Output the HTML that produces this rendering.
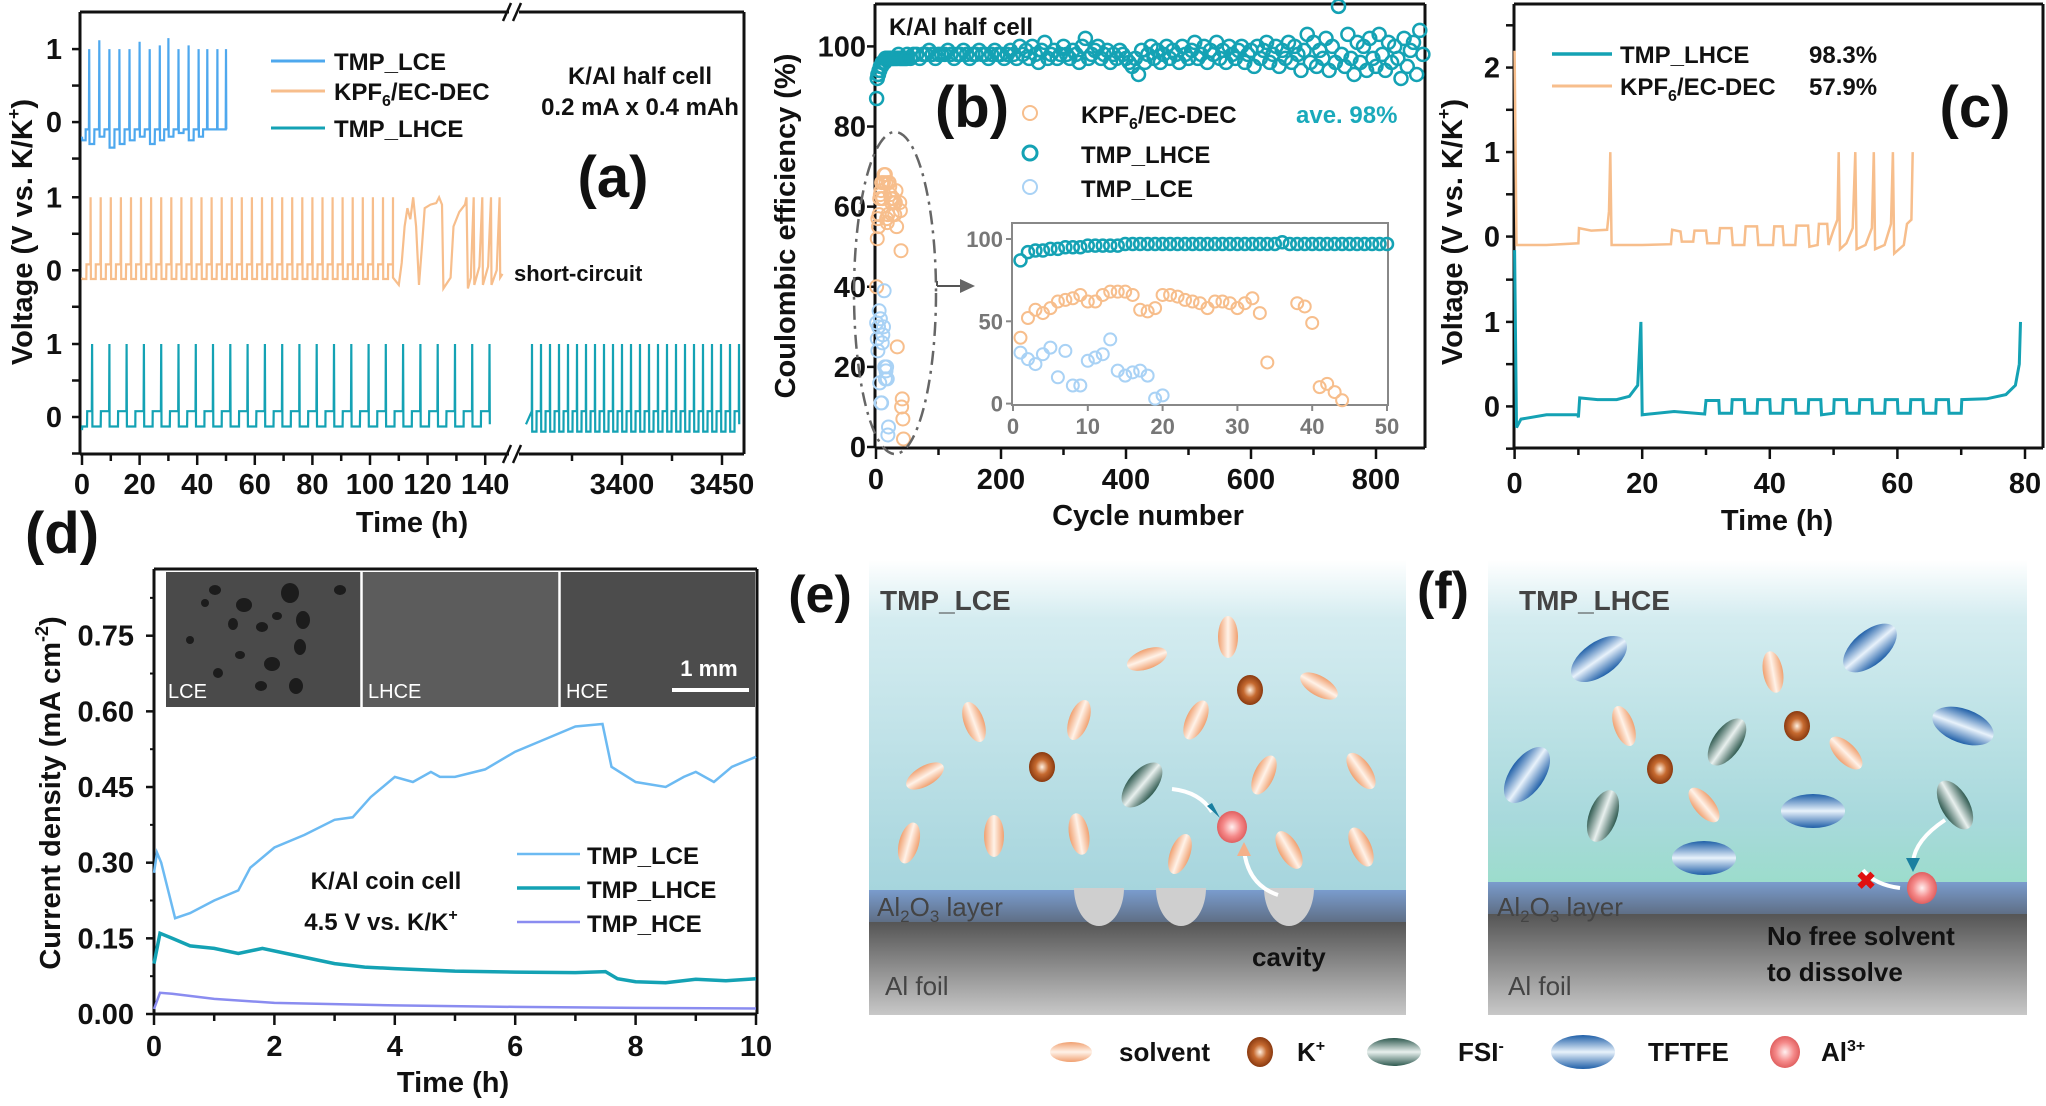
<!DOCTYPE html>
<html><head><meta charset="utf-8"><style>
html,body{margin:0;padding:0;background:#fff;}
svg{display:block;font-family:"Liberation Sans",Arial,sans-serif;font-weight:bold;}
</style></head><body>
<svg id="fig" width="2046" height="1106" viewBox="0 0 2046 1106" xmlns="http://www.w3.org/2000/svg">
<defs>
<linearGradient id="liqE" x1="0" y1="0" x2="0" y2="1"><stop offset="0" stop-color="#ffffff"/><stop offset="0.18" stop-color="#d4ecf0"/><stop offset="1" stop-color="#a6d5dd"/></linearGradient>
<linearGradient id="liqF" x1="0" y1="0" x2="0" y2="1"><stop offset="0" stop-color="#ffffff"/><stop offset="0.18" stop-color="#d4ecf0"/><stop offset="0.8" stop-color="#a8d9dc"/><stop offset="1" stop-color="#9cdccc"/></linearGradient>
<linearGradient id="foil" x1="0" y1="0" x2="0" y2="1"><stop offset="0" stop-color="#555"/><stop offset="1" stop-color="#c8c8c8"/></linearGradient>
<linearGradient id="layer" x1="0" y1="0" x2="0" y2="1"><stop offset="0" stop-color="#7a9ccd"/><stop offset="1" stop-color="#5f6f86"/></linearGradient>
<linearGradient id="gSolv" x1="0" y1="0" x2="1" y2="0"><stop offset="0" stop-color="#f0a070"/><stop offset="0.5" stop-color="#fff2e8"/><stop offset="1" stop-color="#f0a070"/></linearGradient>
<linearGradient id="gFsi" x1="0" y1="0" x2="1" y2="0"><stop offset="0" stop-color="#2f5a50"/><stop offset="0.5" stop-color="#e8f0ee"/><stop offset="1" stop-color="#2f5a50"/></linearGradient>
<linearGradient id="gTf" x1="0" y1="0" x2="1" y2="0"><stop offset="0" stop-color="#1f5fa8"/><stop offset="0.5" stop-color="#e8f2fb"/><stop offset="1" stop-color="#1f5fa8"/></linearGradient>
<radialGradient id="gK"><stop offset="0" stop-color="#fff0e0"/><stop offset="0.5" stop-color="#c66a30"/><stop offset="1" stop-color="#8a3a10"/></radialGradient>
<radialGradient id="gAl"><stop offset="0" stop-color="#fff0f0"/><stop offset="0.6" stop-color="#f58a8a"/><stop offset="1" stop-color="#e06060"/></radialGradient>
</defs>
</svg>
<script>
// ---------- DATA ----------
const lceSpikes=[2.5,6,9.5,13,16.5,20,23.5,27,30,33.5,37,40.5,43.5,47,50];
const lcePeaks=[1.0,1.12,1.0,1.0,1.0,1.1,1.0,1.05,1.15,1.0,1.05,1.0,1.0,1.0,1.0];
const lceLows=[-0.25,-0.3,-0.2,-0.35,-0.3,-0.25,-0.2,-0.3,-0.25,-0.2,-0.15,-0.25,-0.2,-0.1,-0.1];
const kpfSpikes=[3,6.5,10,13.5,17,20.5,24,27.5,31,34.5,38,41.5,45,48.5,52,55.5,59,62.5,66,69.5,73,76.5,80,83.5,87,90.5,94,97.5,101,104.5,108];
const kpfMessy=[[108,-0.1],[110,-0.2],[111,0.1],[112,0.6],[113,0.85],[114,0.7],[115,1.0],[116,0.6],[117,-0.2],[118,0.3],[119,0.85],[121,0.9],[123,0.92],[124,1.0],[125,0.9],[125.5,-0.25],[128,-0.1],[129,0.6],[131,0.8],[133,0.9],[133.5,1.0],[134,-0.25],[135,-0.1],[136,1.0],[136.2,-0.2],[138,0.05],[139,1.0],[139.2,-0.2],[141,0.05],[142,1.0],[142.2,-0.2],[144,0.0],[145,1.0],[145.2,-0.1],[146,-0.05]];
const lhceSpikesL=[3.5,9.5,15.5,21.5,27.5,33.5,39.5,45.5,51.5,57.5,63.5,69.5,75.5,81.5,87.5,93.5,99.5,105.5,111.5,117.5,123.5,129.5,135.5,141.5];
const lhceSpikesR=[3355,3359.5,3364,3368.5,3373,3377.5,3382,3386.5,3391,3395.5,3400,3404.5,3409,3413.5,3418,3422.5,3427,3431.5,3436,3440.5,3445,3449.5,3454,3458.5];
const lhceMainStart=50, lhceMainStep=5;
const lhceMain=[98,97,98,98,97,98,98,99,98,97,98,98,98,99,98,97,98,98,99,98,97,98,98,99,98,98,97,98,99,98,98,
97,98,99,98,97,100,98,99,97,100,98,96,99,101,97,98,99,97,98,100,98,97,99,98,96,100,102,97,98,99,100,97,98,99,96,98,97,99,98,97,
96,95,97,93,99,96,98,100,97,99,96,98,100,97,99,98,96,100,98,97,99,101,97,98,100,96,99,98,101,97,99,96,100,98,97,99,100,96,98,99,
95,100,97,99,101,96,98,100,95,99,97,101,96,100,98,94,99,103,96,101,95,99,97,102,94,100,96,110,98,95,103,97,93,101,96,100,94,102,97,95,103,98,94,101,96,100,97,92,102,95,99,101,93,104,98];
const lhceEarly=[87,92,93,93,94,94,95,95,95,96,96,96,96,96,97,97,97,97,97,97,97,97,97,97,97,97,97,97,97,97,97,97,97,97,97,98,97,97,97,97,97,97,97,97,97,97,97,97,97,97];
const kpfCycles=[1,2,3,4,5,6,7,8,9,10,11,12,13,14,15,16,17,18,19,20,21,22,23,24,25,26,27,28,29,30,31,32,33,34,38,39,40,41,42,43,44];
const kpfCE=[40,52,57,55,58,62,63,64,66,62,62,66,68,68,68,66,57,56,58,66,66,65,63,62,61,58,62,62,61,58,61,64,55,25,61,59,49,10,12,7,2];
const lceCycles=[1,2,3,4,5,6,7,8,9,10,11,12,13,14,15,16,17,18,19,20];
const lceCE=[31,27,24,30,34,16,32,11,11,26,28,30,39,20,17,19,20,17,3,5];
const cLhce=[[0,1.85],[0.3,-0.25],[1,-0.15],[5,-0.1],[9.9,-0.1],[10,-0.13],[10.2,0.1],[13,0.08],[16,0.08],[18,0.12],[19.3,0.25],[19.8,1.0],[20,-0.1],[25,-0.06],[29.8,-0.09],[30,0.07],[32,0.07],[32.1,-0.08],[34,-0.08],[34.1,0.08],[36,0.08],[36.1,-0.08],[38,-0.08],[38.1,0.08],[40,0.08],[40.1,-0.08],[42,-0.08],[42.1,0.08],[44,0.08],[44.1,-0.08],[46,-0.08],[46.1,0.08],[48,0.08],[48.1,-0.1],[50,-0.08],[50.1,0.08],[52,0.08],[52.1,-0.08],[54,-0.08],[54.1,0.08],[56,0.08],[56.1,-0.08],[58,-0.08],[58.1,0.08],[60,0.08],[60.1,-0.08],[62,-0.08],[62.1,0.08],[64,0.08],[64.1,-0.08],[66,-0.08],[66.1,0.08],[68,0.08],[68.1,-0.08],[70,-0.08],[70.1,0.08],[74,0.09],[77,0.14],[78.5,0.25],[79.1,0.5],[79.3,1.0]];
const cKpf=[[0,2.2],[0.3,-0.1],[5,-0.1],[10,-0.08],[10.1,0.1],[12,0.07],[14.5,0.08],[14.8,0.3],[15,1.0],[15.2,-0.1],[20,-0.1],[24.5,-0.09],[24.7,0.08],[26,0.06],[26.2,-0.06],[28,-0.06],[28.2,0.07],[30,0.07],[30.2,-0.08],[32,-0.08],[32.2,0.1],[34,0.1],[34.2,-0.1],[36,-0.1],[36.2,0.12],[38,0.12],[38.2,-0.1],[40.5,-0.1],[40.7,0.12],[42,0.12],[42.2,-0.1],[44,-0.1],[44.2,0.13],[46,0.13],[46.2,-0.12],[47.5,-0.1],[47.7,0.15],[49,0.15],[49.2,-0.1],[50,0.08],[50.6,0.2],[50.8,1.0],[51,-0.15],[52,-0.08],[53,0.1],[53.4,1.0],[53.6,-0.15],[55,-0.1],[56,0.1],[56.3,1.0],[56.5,-0.15],[58,-0.1],[59,0.15],[59.3,1.0],[59.5,-0.2],[61,-0.1],[61.5,0.15],[62.2,0.2],[62.4,1.0]];
const dLce=[[0,0.28],[0.05,0.32],[0.12,0.30],[0.35,0.19],[0.6,0.20],[1,0.225],[1.4,0.245],[1.6,0.29],[2,0.33],[2.5,0.355],[3,0.385],[3.3,0.39],[3.6,0.43],[4,0.47],[4.3,0.46],[4.6,0.48],[4.75,0.47],[5,0.47],[5.5,0.485],[6,0.52],[6.5,0.545],[7,0.57],[7.45,0.575],[7.6,0.49],[8,0.46],[8.5,0.45],[8.8,0.47],[9,0.48],[9.3,0.46],[9.6,0.49],[10,0.51]];
const dLhce=[[0,0.1],[0.1,0.16],[0.3,0.15],[0.6,0.135],[1,0.13],[1.4,0.12],[1.8,0.13],[2.2,0.12],[3,0.1],[3.5,0.093],[4,0.09],[5,0.085],[6,0.083],[7,0.082],[7.5,0.084],[7.7,0.07],[8,0.064],[8.5,0.062],[9,0.069],[9.5,0.066],[10,0.07]];
const dHce=[[0,0.01],[0.1,0.042],[0.3,0.04],[1,0.03],[2,0.022],[4,0.017],[6,0.014],[8,0.012],[10,0.011]];
const dTicks=[0,0.15,0.30,0.45,0.60,0.75];
const dTickLabels=["0.00","0.15","0.30","0.45","0.60","0.75"];

// ---------- HELPERS ----------
const NS="http://www.w3.org/2000/svg";
const svg=document.getElementById('fig');
function mk(tag,attrs,name,parent){
  const el=document.createElementNS(NS,tag);
  for(const k in attrs) el.setAttribute(k,attrs[k]);
  
  
  (parent||svg).appendChild(el);
  return el;
}
function txt(x,y,s,size,name,opt){
  opt=opt||{};
  const el=mk('text',{x:x,y:y,'font-size':size,fill:opt.fill||'#111','text-anchor':opt.anchor||'start'},name,opt.parent);
  if(opt.rot) el.setAttribute('transform','rotate('+opt.rot+' '+x+' '+y+')');
  if(opt.weight) el.setAttribute('font-weight',opt.weight);
  el.innerHTML=s;
  return el;
}
function pathD(pts,fx,fy){return pts.map((p,i)=>(i?'L':'M')+fx(p[0]).toFixed(1)+' '+fy(p[1]).toFixed(1)).join(' ');}
function ln(x1,y1,x2,y2,name,w,c){return mk('line',{x1:x1,y1:y1,x2:x2,y2:y2,stroke:c||'#111','stroke-width':w||3},name);}
const LCEc='#4ea8ee', KPFc='#f7be8c', LHCEc='#14a2b4', HCEc='#8a8cf0';

// ---------- PANEL (a) ----------
const xaL=t=>82+t*2.88, xaR=t=>622+(t-3400)*2.0;
const ya=v=>417-73*v;
const offLCE=4.04, offKPF=2.01;
function cyclePts(spikes,peaks,lows,high,start,off){
  const pts=[[0,start+off]];let p=0;
  spikes.forEach((s,i)=>{
    const lo=Array.isArray(lows)?lows[i]:lows, pk=Array.isArray(peaks)?peaks[i]:peaks, m=(p+s)/2;
    pts.push([p+0.1,lo+off],[m,lo+off],[m+0.05,high+off],[s-0.1,high+off],[s,pk+off]);
    p=s;
  });
  pts.push([p+0.1,-0.1+off]);
  return pts;
}
ln(80,12,80,454,'a-y-axis',3);
ln(80,454,509,454,'a-x-axis-left',3);ln(519,454,744,454,'a-x-axis-right',3);
ln(80,12,509,12,'a-top-frame-left',3);ln(519,12,744,12,'a-top-frame-right',3);
ln(744,12,744,454,'a-right-frame',3);
[[12],[454]].forEach(([y])=>{ln(503,y+9,511,y-9,'a-break-mark',2.5);ln(513,y+9,521,y-9,'a-break-mark',2.5);});
for(let t=0;t<=140;t+=10){ln(xaL(t),454,xaL(t),t%20?461:465,'a-x-tick',2.5);if(t%20===0)txt(xaL(t),494,String(t),29,'a-x-tick-label',{anchor:'middle'});}
[3375,3400,3425,3450].forEach(t=>{ln(xaR(t),454,xaR(t),t%50?461:465,'a-x-tick',2.5);if(t%50===0)txt(xaR(t),494,String(t),29,'a-x-tick-label',{anchor:'middle'});});
[0,offKPF,offLCE].forEach(o=>{[-0.5,0,0.5,1].forEach(v=>{ln(72,ya(v+o),80,ya(v+o),'a-y-tick',2.5);});txt(62,ya(o)+10,'0',29,'a-y-tick-label',{anchor:'end'});txt(62,ya(1+o)+10,'1',29,'a-y-tick-label',{anchor:'end'});});
txt(32,232,'Voltage (V vs. K/K<tspan font-size="18" dy="-12">+</tspan><tspan dy="12">)</tspan>',29,'a-y-axis-title',{anchor:'middle',rot:-90});
txt(412,532,'Time (h)',29,'a-x-axis-title',{anchor:'middle'});
mk('path',{d:pathD(cyclePts(lhceSpikesL,1.0,-0.13,0.08,-0.18,0),xaL,ya),fill:'none',stroke:LHCEc,'stroke-width':2.2},'a-series-lhce-left');
const rPts=cyclePts(lhceSpikesR,1.0,-0.2,0.08,-0.1,0).map(p=>[p[0]===0?3352:p[0],p[1]]);
rPts[0]=[3352,-0.1];
mk('path',{d:pathD(rPts.filter(p=>p[0]>=3352),xaR,ya),fill:'none',stroke:LHCEc,'stroke-width':2.2},'a-series-lhce-right');
const kp=cyclePts(kpfSpikes,1.0,-0.12,0.08,-0.1,offKPF);kp.pop();
mk('path',{d:pathD(kp.concat(kpfMessy.map(p=>[p[0],p[1]+offKPF])),xaL,ya),fill:'none',stroke:KPFc,'stroke-width':2.2},'a-series-kpf');
mk('path',{d:pathD(cyclePts(lceSpikes,lcePeaks,lceLows,-0.1,-0.2,offLCE),xaL,ya),fill:'none',stroke:LCEc,'stroke-width':2.2},'a-series-lce');
[[61,LCEc,'TMP_LCE'],[91,KPFc,'KPF<tspan font-size="16" dy="6">6</tspan><tspan dy="-6">/EC-DEC</tspan>'],[128,LHCEc,'TMP_LHCE']].forEach(([y,c,s])=>{ln(271,y,325,y,'a-legend-line',3,c);txt(334,y+9,s,24,'a-legend-label');});
txt(640,84,'K/Al half cell',24,'a-annotation-cell',{anchor:'middle'});
txt(640,115,'0.2 mA x 0.4 mAh',24,'a-annotation-current',{anchor:'middle'});
txt(613,197,'(a)',58,'a-panel-label',{anchor:'middle'});
txt(514,281,'short-circuit',22,'a-short-circuit-label');

// ---------- PANEL (b) ----------
const xb=c=>876+c*0.625, yb=v=>447-4.006*v;
ln(875,4,875,448,'b-y-axis',3);ln(875,448,1425,448,'b-x-axis',3);ln(875,4,1425,4,'b-top-frame',3);ln(1425,4,1425,448,'b-right-frame',3);
for(let c=0;c<=850;c+=100){ln(xb(c),448,xb(c),c%200?455:459,'b-x-tick',2.5);if(c%200===0)txt(xb(c),489,String(c),29,'b-x-tick-label',{anchor:'middle'});}
for(let v=0;v<=100;v+=20){ln(867,yb(v),875,yb(v),'b-y-tick',2.5);txt(866,yb(v)+10,String(v),29,'b-y-tick-label',{anchor:'end'});}
txt(795,226,'Coulombic efficiency (%)',29,'b-y-axis-title',{anchor:'middle',rot:-90});
txt(1148,525,'Cycle number',29,'b-x-axis-title',{anchor:'middle'});
const gB=mk('g',{},'b-plot-area');
lhceMain.forEach((v,i)=>{mk('circle',{cx:xb(lhceMainStart+i*lhceMainStep),cy:yb(v),r:6.5,fill:'none',stroke:LHCEc,'stroke-width':2.5},'b-lhce-point',gB);});
lhceEarly.forEach((v,i)=>{mk('circle',{cx:xb(i+1),cy:yb(v),r:6.5,fill:'none',stroke:LHCEc,'stroke-width':2.5},'b-lhce-point',gB);});
kpfCE.forEach((v,i)=>{mk('circle',{cx:xb(kpfCycles[i]),cy:yb(v),r:6.5,fill:'none',stroke:KPFc,'stroke-width':2},'b-kpf-point',gB);});
lceCE.forEach((v,i)=>{mk('circle',{cx:xb(lceCycles[i]),cy:yb(v),r:6.5,fill:'none',stroke:'#a9d2f5','stroke-width':2},'b-lce-point',gB);});
mk('ellipse',{cx:895,cy:293,rx:41,ry:161,fill:'none',stroke:'#666','stroke-width':2.5,'stroke-dasharray':'14 6 3 6'},'b-zoom-ellipse');
ln(937,286,937,281,'b-zoom-arrow',2,'#555');ln(937,286,962,286,'b-zoom-arrow',2,'#555');
mk('path',{d:'M960 279 L975 286 L960 293 Z',fill:'#666'},'b-zoom-arrowhead');
txt(889,35,'K/Al half cell',24,'b-annotation-cell');
txt(972,127,'(b)',58,'b-panel-label',{anchor:'middle'});
[[113,KPFc,'KPF<tspan font-size="16" dy="6">6</tspan><tspan dy="-6">/EC-DEC</tspan>',2],[153,LHCEc,'TMP_LHCE',3],[187,'#a9d2f5','TMP_LCE',2]].forEach(([y,c,s,w])=>{mk('circle',{cx:1030,cy:y,r:7,fill:'none',stroke:c,'stroke-width':w},'b-legend-marker');txt(1081,y+10,s,24,'b-legend-label');});
txt(1296,123,'ave. 98%',24,'b-average-label',{fill:'#1aaabb'});
const xi=c=>1013+c*7.48, yi=v=>403.6-1.646*v;
mk('rect',{x:1012,y:223,width:376,height:182,fill:'#fff',stroke:'#888','stroke-width':2},'b-inset-frame');
[0,10,20,30,40,50].forEach(c=>{ln(xi(c),405,xi(c),411,'b-inset-x-tick',2,'#888');txt(xi(c),434,String(c),22,'b-inset-x-tick-label',{anchor:'middle',fill:'#777'});});
[0,50,100].forEach(v=>{ln(1006,yi(v),1012,yi(v),'b-inset-y-tick',2,'#888');txt(1003,yi(v)+8,String(v),22,'b-inset-y-tick-label',{anchor:'end',fill:'#777'});});
lhceEarly.forEach((v,i)=>{mk('circle',{cx:xi(i+1),cy:yi(v),r:6,fill:'none',stroke:LHCEc,'stroke-width':2.5},'b-inset-lhce-point');});
kpfCE.forEach((v,i)=>{mk('circle',{cx:xi(kpfCycles[i]),cy:yi(v),r:6,fill:'none',stroke:KPFc,'stroke-width':2},'b-inset-kpf-point');});
lceCE.forEach((v,i)=>{mk('circle',{cx:xi(lceCycles[i]),cy:yi(v),r:6,fill:'none',stroke:'#a9d2f5','stroke-width':2},'b-inset-lce-point');});

// ---------- PANEL (c) ----------
const xc=t=>1514.6+t*6.38, yc=v=>406.4-84.5*v;
ln(1514,4,1514,448,'c-y-axis',3);ln(1514,448,2043,448,'c-x-axis',3);ln(1514,4,2043,4,'c-top-frame',3);ln(2043,4,2043,448,'c-right-frame',3);
for(let t=0;t<=80;t+=10){ln(xc(t),448,xc(t),t%20?455:459,'c-x-tick',2.5);if(t%20===0)txt(xc(t),493,String(t),29,'c-x-tick-label',{anchor:'middle'});}
[-0.5,0,0.5,1,1.5,2.01,2.51,3.01,3.51,4.01,4.51].forEach(v=>ln(1506,yc(v),1514,yc(v),'c-y-tick',2.5));
[[0,'0'],[1,'1'],[2.01,'0'],[3.01,'1'],[4.01,'2']].forEach(([v,s])=>txt(1500,yc(v)+10,s,29,'c-y-tick-label',{anchor:'end'}));
txt(1462,232,'Voltage (V vs. K/K<tspan font-size="18" dy="-12">+</tspan><tspan dy="12">)</tspan>',29,'c-y-axis-title',{anchor:'middle',rot:-90});
txt(1777,530,'Time (h)',29,'c-x-axis-title',{anchor:'middle'});
mk('path',{d:pathD(cKpf.map(p=>[p[0],p[1]+2.01]),xc,yc),fill:'none',stroke:KPFc,'stroke-width':2.5},'c-series-kpf');
mk('path',{d:pathD(cLhce,xc,yc),fill:'none',stroke:LHCEc,'stroke-width':3},'c-series-lhce');
ln(1552,54,1612,54,'c-legend-line-lhce',3.5,LHCEc);txt(1620,63,'TMP_LHCE',24,'c-legend-label');txt(1809,63,'98.3%',24,'c-legend-value');
ln(1552,86,1612,86,'c-legend-line-kpf',3,KPFc);txt(1620,95,'KPF<tspan font-size="16" dy="6">6</tspan><tspan dy="-6">/EC-DEC</tspan>',24,'c-legend-label');txt(1809,95,'57.9%',24,'c-legend-value');
txt(1975,127,'(c)',58,'c-panel-label',{anchor:'middle'});

// ---------- PANEL (d) ----------
const xd=t=>154+t*60.2, yd=v=>1014-504.4*v;
ln(154,569,154,1014,'d-y-axis',3);ln(154,1014,757,1014,'d-x-axis',3);ln(154,569,757,569,'d-top-frame',3);ln(757,569,757,1014,'d-right-frame',3);
for(let t=0;t<=10;t+=1){ln(xd(t),1014,xd(t),t%2?1021:1025,'d-x-tick',2.5);if(t%2===0)txt(xd(t),1056,String(t),29,'d-x-tick-label',{anchor:'middle'});}
dTicks.forEach((v,i)=>{ln(146,yd(v),154,yd(v),'d-y-tick',2.5);ln(150,yd(v+0.075),154,yd(v+0.075),'d-y-minor-tick',2);txt(134,yd(v)+10,dTickLabels[i],29,'d-y-tick-label',{anchor:'end'});});
txt(60,793,'Current density (mA cm<tspan font-size="18" dy="-12">-2</tspan><tspan dy="12">)</tspan>',29,'d-y-axis-title',{anchor:'middle',rot:-90});
txt(453,1092,'Time (h)',29,'d-x-axis-title',{anchor:'middle'});
txt(62,553,'(d)',58,'d-panel-label',{anchor:'middle'});
mk('rect',{x:166,y:572,width:196,height:135,fill:'#4a4a4a'},'d-sem-lce');
mk('rect',{x:362,y:572,width:198,height:135,fill:'#5c5c5c'},'d-sem-lhce');
mk('rect',{x:560,y:572,width:195,height:135,fill:'#4c4c4c'},'d-sem-hce');
[[215,590,6,5],[244,605,8,7],[233,624,5,6],[262,627,6,5],[277,616,5,4],[290,593,9,10],[303,620,7,9],[300,647,6,8],[272,664,8,7],[240,655,5,4],[190,640,4,4],[218,673,5,5],[261,686,6,5],[296,686,7,8],[205,603,4,4],[340,590,6,5]].forEach(b=>mk('ellipse',{cx:b[0],cy:b[1],rx:b[2],ry:b[3],fill:'#1c1c1c'},'d-sem-pit'));
ln(361.5,572,361.5,707,'d-sem-divider',2.5,'#fff');ln(559.5,572,559.5,707,'d-sem-divider',2.5,'#fff');
txt(168,698,'LCE',20,'d-sem-label-lce',{fill:'#fff',weight:'normal'});
txt(368,698,'LHCE',20,'d-sem-label-lhce',{fill:'#fff',weight:'normal'});
txt(566,698,'HCE',20,'d-sem-label-hce',{fill:'#fff',weight:'normal'});
txt(709,676,'1 mm',22,'d-scale-bar-label',{fill:'#fff',anchor:'middle'});
mk('rect',{x:672,y:688,width:77,height:4,fill:'#fff'},'d-scale-bar');
mk('path',{d:pathD(dLce,xd,yd),fill:'none',stroke:'#6cbaf2','stroke-width':2.5},'d-series-lce');
mk('path',{d:pathD(dLhce,xd,yd),fill:'none',stroke:LHCEc,'stroke-width':3.5},'d-series-lhce');
mk('path',{d:pathD(dHce,xd,yd),fill:'none',stroke:HCEc,'stroke-width':2.5},'d-series-hce');
[[854,'#6cbaf2','TMP_LCE',2.5],[888,LHCEc,'TMP_LHCE',3.5],[922,HCEc,'TMP_HCE',2.5]].forEach(([y,c,s,w])=>{ln(517,y,580,y,'d-legend-line',w,c);txt(587,y+10,s,24,'d-legend-label');});
txt(386,889,'K/Al coin cell',24,'d-annotation-cell',{anchor:'middle'});
txt(381,930,'4.5 V vs. K/K<tspan font-size="16" dy="-10">+</tspan>',24,'d-annotation-voltage',{anchor:'middle'});

// ---------- PANELS (e),(f) ----------
function box(x0,w,layerTop,liq,pfx){
  mk('rect',{x:x0,y:560,width:w,height:layerTop-560,fill:'url(#'+liq+')'},pfx+'-electrolyte');
  mk('rect',{x:x0,y:layerTop,width:w,height:32,fill:'url(#layer)'},pfx+'-al2o3-layer');
  mk('rect',{x:x0,y:layerTop+32,width:w,height:1015-layerTop-32,fill:'url(#foil)'},pfx+'-al-foil');
}
box(869,537,890,'liqE','e');box(1488,539,882,'liqF','f');
function mol(kind,x,y,ang,name){
  const g=mk('g',{transform:'translate('+x+' '+y+') rotate('+ang+')'},name);
  if(kind==='s') mk('ellipse',{cx:0,cy:0,rx:10,ry:21,fill:'url(#gSolv)'},'solvent-shape',g);
  if(kind==='f') mk('ellipse',{cx:0,cy:0,rx:14,ry:27,fill:'url(#gFsi)'},'fsi-shape',g);
  if(kind==='t') mk('ellipse',{cx:0,cy:0,rx:17,ry:32,fill:'url(#gTf)'},'tftfe-shape',g);
  if(kind==='k') mk('ellipse',{cx:0,cy:0,rx:13,ry:15,fill:'url(#gK)'},'k-ion-shape',g);
  if(kind==='a') mk('ellipse',{cx:0,cy:0,rx:15,ry:16,fill:'url(#gAl)'},'al-ion-shape',g);
}
[[1228,637,0],[1147,659,70],[1319,686,-60],[974,722,-20],[1079,720,20],[1196,720,25],[925,776,60],[1264,775,25],[1361,771,-35],[909,843,15],[994,836,0],[1079,834,-10],[1180,854,20],[1289,850,-30],[1361,847,-25]].forEach(m=>mol('s',m[0],m[1],m[2],'e-solvent-molecule'));
mol('k',1250,690,0,'e-k-ion');mol('k',1042,767,0,'e-k-ion');
mol('f',1142,785,40,'e-fsi-anion');mol('a',1232,827,0,'e-al-ion');
[1099,1181,1289].forEach(cx=>mk('path',{d:'M'+(cx-25)+' 888 A25 38 0 0 0 '+(cx+25)+' 888 Z',fill:'#cfcfcf'},'e-cavity'));
mk('path',{d:'M1172 789 Q1200 792 1212 812',fill:'none',stroke:'#fff','stroke-width':4},'e-arrow-fsi');
mk('path',{d:'M1207 806 L1220 818 L1212 803 Z',fill:'#1a7fa0'},'e-arrowhead-fsi');
mk('path',{d:'M1278 895 Q1248 885 1244 850',fill:'none',stroke:'#fff','stroke-width':4},'e-arrow-al');
mk('path',{d:'M1237 856 L1244 842 L1251 856 Z',fill:'#f4b08a'},'e-arrowhead-al');
txt(880,610,'TMP_LCE',28,'e-title',{fill:'#444'});
txt(877,916,'Al<tspan font-size="17" dy="6">2</tspan><tspan dy="-6">O</tspan><tspan font-size="17" dy="6">3</tspan><tspan dy="-6"> layer</tspan>',26,'e-layer-label',{fill:'#444',weight:'normal'});
txt(885,995,'Al foil',26,'e-foil-label',{fill:'#444',weight:'normal'});
txt(1252,966,'cavity',26,'e-cavity-label',{fill:'#111'});
txt(820,612,'(e)',52,'e-panel-label',{anchor:'middle'});
[[1599,659,55],[1870,648,50],[1963,726,-70],[1527,775,35],[1813,811,90],[1704,858,90]].forEach(m=>mol('t',m[0],m[1],m[2],'f-tftfe-molecule'));
[[1773,672,-10],[1624,726,-20],[1846,753,-45],[1704,805,-40]].forEach(m=>mol('s',m[0],m[1],m[2],'f-solvent-molecule'));
mol('k',1797,726,0,'f-k-ion');mol('k',1660,769,0,'f-k-ion');
[[1727,742,35],[1603,816,20],[1955,805,-30]].forEach(m=>mol('f',m[0],m[1],m[2],'f-fsi-anion'));
mol('a',1922,888,0,'f-al-ion');
mk('path',{d:'M1945 820 Q1915 840 1913 862',fill:'none',stroke:'#fff','stroke-width':4},'f-arrow-fsi');
mk('path',{d:'M1906 858 L1913 872 L1920 858 Z',fill:'#1a7fa0'},'f-arrowhead-fsi');
mk('path',{d:'M1900 888 Q1875 885 1863 870',fill:'none',stroke:'#fff','stroke-width':4},'f-arrow-blocked');
txt(1866,889,'✖',24,'f-blocked-x',{fill:'#e01010',anchor:'middle'});
txt(1519,610,'TMP_LHCE',28,'f-title',{fill:'#444'});
txt(1497,916,'Al<tspan font-size="17" dy="6">2</tspan><tspan dy="-6">O</tspan><tspan font-size="17" dy="6">3</tspan><tspan dy="-6"> layer</tspan>',26,'f-layer-label',{fill:'#444',weight:'normal'});
txt(1508,995,'Al foil',26,'f-foil-label',{fill:'#444',weight:'normal'});
txt(1767,945,'No free solvent',26,'f-annotation-line1',{fill:'#111'});
txt(1767,981,'to dissolve',26,'f-annotation-line2',{fill:'#111'});
txt(1443,608,'(f)',52,'f-panel-label',{anchor:'middle'});
mol('s',1071,1052,90,'legend-solvent-icon');txt(1119,1061,'solvent',26,'legend-solvent-label');
mol('k',1260,1052,0,'legend-k-icon');txt(1297,1061,'K<tspan font-size="16" dy="-10">+</tspan>',26,'legend-k-label');
mol('f',1394,1052,90,'legend-fsi-icon');txt(1458,1061,'FSI<tspan font-size="16" dy="-10">-</tspan>',26,'legend-fsi-label');
mol('t',1583,1052,90,'legend-tftfe-icon');txt(1648,1061,'TFTFE',26,'legend-tftfe-label');
mol('a',1785,1052,0,'legend-al-icon');txt(1821,1061,'Al<tspan font-size="16" dy="-10">3+</tspan>',26,'legend-al-label');
</script>
</body></html>
